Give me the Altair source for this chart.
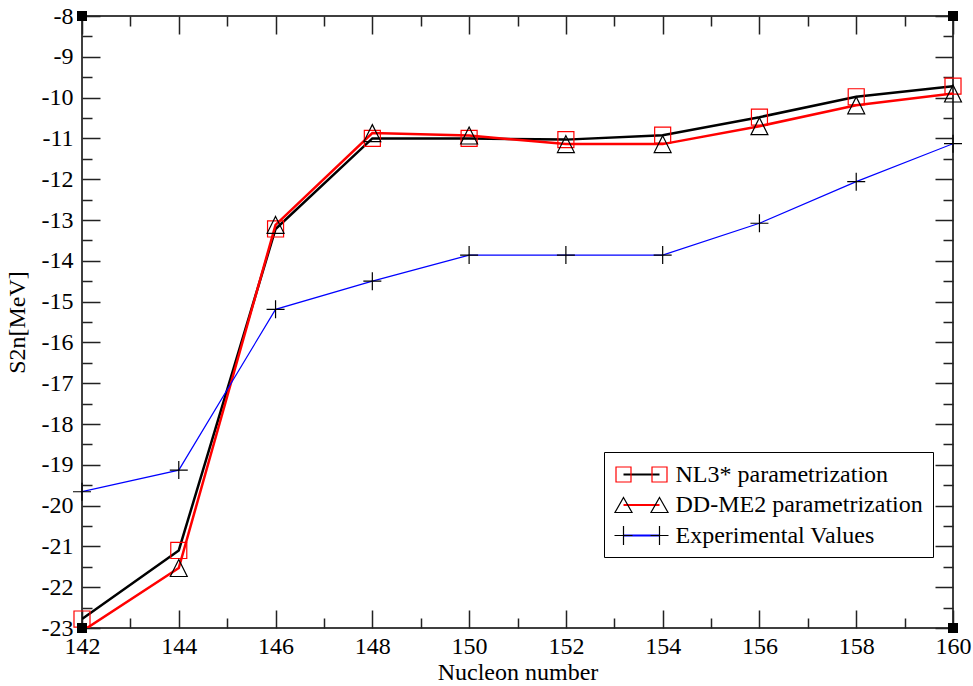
import altair as alt
import pandas as pd

# ---- data ----
nucleon = [142, 144, 146, 148, 150, 152, 154, 156, 158, 160]
nl3 = [-22.78, -21.1, -13.22, -11.0, -11.0, -11.03, -10.92, -10.48, -9.98, -9.72]
ddme2 = [-23.08, -21.53, -13.12, -10.87, -10.93, -11.14, -11.14, -10.70, -10.19, -9.90]
experimental = [-19.66, -19.13, -15.19, -14.5, -13.86, -13.86, -13.86, -13.08, -12.06, -11.13]
series_names = ["NL3* parametrization", "DD-ME2 parametrization", "Experimental Values"]

x_major = [142, 144, 146, 148, 150, 152, 154, 156, 158, 160]
x_minor = [143, 145, 147, 149, 151, 153, 155, 157, 159]
y_major = [-23, -22, -21, -20, -19, -18, -17, -16, -15, -14, -13, -12, -11, -10, -9, -8]
y_minor = [-22.5, -21.5, -20.5, -19.5, -18.5, -17.5, -16.5, -15.5, -14.5, -13.5,
           -12.5, -11.5, -10.5, -9.5, -8.5]
corner_x = [142, 160, 142, 160]
corner_y = [-8, -8, -23, -23]

rows = []
for name, vals in zip(series_names, [nl3, ddme2, experimental]):
    for xv, yv in zip(nucleon, vals):
        rows.append({"x": xv, "y": yv, "series": name})
df = pd.DataFrame(rows)
corners = pd.DataFrame({"x": corner_x, "y": corner_y})

W, H = 871, 612
FONT = "Liberation Serif"
xs = alt.Scale(domain=[142, 160], nice=False, zero=False)
ys = alt.Scale(domain=[-23, -8], nice=False, zero=False)

line_colors = ["black", "#ff0000", "#0000ff"]
marker_colors = ["#ff0000", "black", "black"]
plot_shapes = [
    "M-0.89,-0.89H0.89V0.89H-0.89Z",
    "M0,-0.94L0.94,0.94H-0.94Z",
    "M-1,0H1M0,-1V1",
]
# legend symbols: unit = 12 px (symbolSize 576)
legend_shapes = [
    "M-2.125,-0.625H-0.875V0.625H-2.125ZM0.875,-0.625H2.125V0.625H0.875Z",
    "M-1.5,-0.625L-0.79,0.625H-2.21ZM1.5,-0.625L2.21,0.625H0.79Z",
    "M-2.25,0H-0.75M-1.5,-0.8V0.8M0.75,0H2.25M1.5,-0.8V0.8",
]
legend_line = "M-1.5,0H1.5"

LEG_X, LEG_Y = 522, 436
leg_common = dict(
    orient="none", legendX=LEG_X, legendY=LEG_Y, title=None,
    symbolSize=576, symbolOffset=15, labelFont=FONT, labelFontSize=24, labelOffset=21,
    rowPadding=5.5, padding=9.5, labelLimit=400,
)

x_major_axis = alt.Axis(
    values=x_major, orient="bottom", title="Nucleon number", titleFont=FONT,
    titleFontSize=24, titleFontWeight="normal", titleColor="black", titlePadding=2,
    labelFont=FONT, labelFontSize=24, labelColor="black", labelPadding=6,
    labelFlush=False, labelOverlap=False, labelExpr="'' + datum.value",
    ticks=False, tickSize=0, domain=False,
    grid=True, gridColor="#222222", gridWidth=1.5, gridDash=[18, H - 36],
)
x_minor_axis = alt.Axis(
    values=x_minor, orient="top", title=None, labels=False, ticks=False, tickSize=0,
    domain=False, grid=True, gridColor="#222222", gridWidth=1.5, gridDash=[10, H - 20],
)
y_major_axis = alt.Axis(
    values=y_major, orient="left", title="S2n[MeV]", titleFont=FONT,
    titleFontSize=24, titleFontWeight="normal", titleColor="black", titlePadding=12,
    labelFont=FONT, labelFontSize=24, labelColor="black", labelPadding=9,
    labelFlush=False, labelOverlap=False, labelExpr="'' + datum.value",
    ticks=False, tickSize=0, domain=False,
    grid=True, gridColor="#222222", gridWidth=1.5, gridDash=[18, W - 36],
)
y_minor_axis = alt.Axis(
    values=y_minor, orient="right", title=None, labels=False, ticks=False, tickSize=0,
    domain=False, grid=True, gridColor="#222222", gridWidth=1.5, gridDash=[10, W - 20],
)

lines = alt.Chart(df).mark_line(clip=True).encode(
    x=alt.X("x:Q", scale=xs, axis=x_major_axis),
    y=alt.Y("y:Q", scale=ys, axis=y_major_axis),
    stroke=alt.Stroke("series:N", scale=alt.Scale(domain=series_names, range=line_colors),
                      legend=alt.Legend(symbolType=legend_line, symbolStrokeWidth=2,
                                        labelOpacity=0, zindex=1, **leg_common)),
    strokeWidth=alt.StrokeWidth("series:N", scale=alt.Scale(type="ordinal", domain=series_names,
                                                           range=[2.5, 2.5, 1.2]),
                                legend=None),
)

# markers whose centre falls outside the frame are not drawn
points = alt.Chart(df).transform_filter("datum.y >= -23").mark_point(
    filled=False, size=324, strokeWidth=1.2, opacity=1
).encode(
    x=alt.X("x:Q", scale=xs, axis=x_minor_axis),
    y=alt.Y("y:Q", scale=ys, axis=y_minor_axis),
    stroke=alt.Stroke("series:N", scale=alt.Scale(domain=series_names, range=marker_colors),
                      legend=None),
    shape=alt.Shape("series:N", scale=alt.Scale(domain=series_names, range=plot_shapes),
                    legend=None),
)

corner_marks = alt.Chart(corners).mark_square(size=100, color="black", opacity=1).encode(
    x=alt.X("x:Q", scale=xs, axis=None),
    y=alt.Y("y:Q", scale=ys, axis=None),
)

marker_legend = alt.Legend(strokeColor="black", symbolStrokeWidth=1.2,
                           labelColor="black", zindex=2, **leg_common)
legend_markers = alt.Chart(df).transform_filter("false").mark_point(
    filled=False, strokeWidth=1.2, opacity=1
).encode(
    x=alt.X("x:Q", scale=xs, axis=None),
    y=alt.Y("y:Q", scale=ys, axis=None),
    stroke=alt.Stroke("series:N", scale=alt.Scale(domain=series_names, range=marker_colors),
                      legend=marker_legend),
    shape=alt.Shape("series:N", scale=alt.Scale(domain=series_names, range=legend_shapes),
                    legend=marker_legend),
)

chart = alt.layer(lines, points, corner_marks, legend_markers).resolve_scale(
    stroke="independent", shape="independent"
).resolve_axis(
    x="independent", y="independent"
).properties(
    width=W, height=H,
    autosize=alt.AutoSizeParams(type="none"),
    padding={"left": 82, "top": 16, "right": 20, "bottom": 58},
    background="white",
).configure_view(stroke="black", strokeWidth=1.5)

chart.save("out.html", embed_options={"renderer": "svg", "actions": False})
